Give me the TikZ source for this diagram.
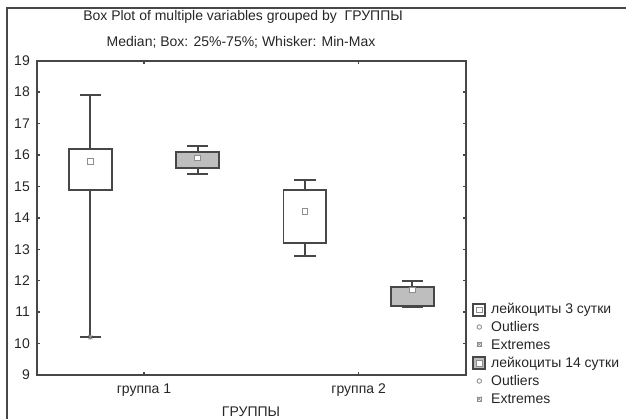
\documentclass[tikz,border=0pt]{standalone}
\usepackage{fontspec}
\setmainfont{Liberation Sans}
\usetikzlibrary{positioning}

\definecolor{axisgray}{HTML}{474747}
\definecolor{boxgray}{HTML}{BEBEBE}
\definecolor{markgray}{HTML}{8E8E8E}

\tikzset{
  frameline/.style={draw=axisgray, line width=2.3pt},
  tickline/.style={draw=axisgray, line width=1.5pt},
  whisk/.style={draw=axisgray, line width=1.9pt},
  medmark/.style={draw=markgray, line width=1pt, fill=white, rectangle, minimum size=5.5pt, inner sep=0pt},
  lbl/.style={font=\fontsize{14}{16}\selectfont, text=black!85, inner sep=0pt},
  legbox/.style={draw=axisgray, line width=1.9pt, rectangle, minimum size=12pt, inner sep=0pt},
  outmark/.style={circle, draw=markgray, line width=0.9pt, minimum size=4.5pt, inner sep=0pt},
  extmark/.style={draw=markgray, line width=0.7pt, minimum size=4pt, inner sep=0pt},
}

\begin{document}
\begin{tikzpicture}[x=1pt,y=1pt]
\useasboundingbox (0,0) rectangle (626,419);
\clip (0,0) rectangle (626,419);
% outer frame
\draw[draw=axisgray, line width=1.8pt] (7,-5) -- (7,410.7) -- (640,410.7);

% titles
\node[lbl] (title) at (243,402.3) {Box Plot of multiple variables grouped by\ \ ГРУППЫ};
\node[lbl] (subtitle) at (241,376.3) {Median; Box: 25\%-75\%; Whisker: Min-Max};

\begin{scope}[shift={(36.7pt,-238.87pt)}, x=107.3pt, y=31.43pt]
  % axes frame and ticks
  \draw[frameline] (0,9) rectangle (4,19);
  \foreach \v in {9,...,19} {
    \draw[tickline] (0,\v) -- ++(3pt,0);
    \draw[tickline] (4,\v) -- ++(-3pt,0);
    \node[lbl, anchor=east] (ylab\v) at ([xshift=-6.7pt]0,\v) {\v};
  }
  \foreach \g/\xc in {1/1,2/3} {
    \draw[tickline] (\xc,9) -- ++(0,3pt);
    \draw[tickline] (\xc,19) -- ++(0,-3pt);
    \node[lbl] (xlab\g) at ([yshift=-15pt]\xc,9) {группа \g};
  }
  % boxes: position / min / q25 / q75 / max / median / fill
  \foreach \xc/\lo/\qa/\qb/\hi/\md/\fc in {
      0.5/10.2/14.9/16.2/17.9/15.8/white,
      1.5/15.4/15.6/16.1/16.3/15.9/boxgray,
      2.5/12.8/13.2/14.9/15.2/14.2/white,
      3.5/11.15/11.2/11.8/12.0/11.7/boxgray} {
    \draw[whisk] (\xc,\lo) -- (\xc,\hi);
    \draw[whisk] (\xc-0.1,\lo) -- (\xc+0.1,\lo);
    \draw[whisk] (\xc-0.1,\hi) -- (\xc+0.1,\hi);
    \draw[whisk, fill=\fc] (\xc-0.2,\qa) rectangle (\xc+0.2,\qb);
    \node[medmark] at (\xc,\md) {};
  }
  % extreme at the minimum of group 1
  \draw[markgray, line width=0.8pt] (0.5,10.2) +(-2pt,-2pt) -- +(2pt,2pt) +(-2pt,2pt) -- +(2pt,-2pt) +(0,-2.3pt) -- +(0,2.3pt);
\end{scope}

% x axis title
\node[lbl, anchor=base] (xtitle) at (251,2) {ГРУППЫ};

% legend
\node[legbox, fill=white] (leg1) at (479.3,109) {};
\node[medmark] at (leg1) {};
\node[lbl, anchor=west] (leg1t) at (491,109) {лейкоциты 3 сутки};
\node[outmark] (out1) at (479.3,92) {};
\node[lbl, anchor=west] (out1t) at (491,92) {Outliers};
\node[extmark] (ext1) at (479.3,74.7) {};
\draw[markgray, line width=0.6pt] (ext1.south west) -- (ext1.north east) (ext1.north west) -- (ext1.south east);
\node[lbl, anchor=west] (ext1t) at (491,74.7) {Extremes};
\node[legbox, fill=boxgray] (leg2) at (479.3,55.7) {};
\node[medmark] at (leg2) {};
\node[lbl, anchor=west] (leg2t) at (491,55.7) {лейкоциты 14 сутки};
\node[outmark] (out2) at (479.3,38) {};
\node[lbl, anchor=west] (out2t) at (491,38) {Outliers};
\node[extmark] (ext2) at (479.3,20) {};
\draw[markgray, line width=0.6pt] (ext2.south west) -- (ext2.north east) (ext2.north west) -- (ext2.south east);
\node[lbl, anchor=west] (ext2t) at (491,20) {Extremes};
\end{tikzpicture}
\end{document}
